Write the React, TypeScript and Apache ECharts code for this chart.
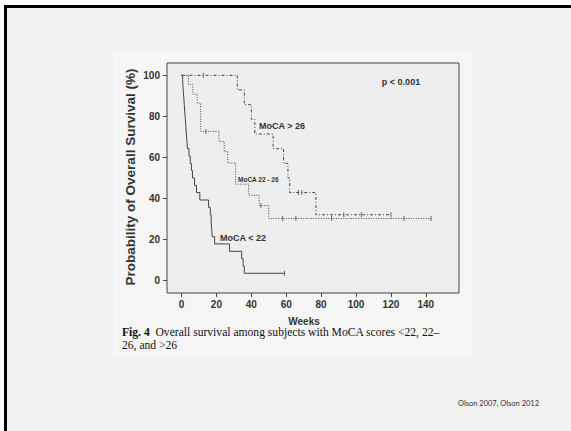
import React, { useEffect, useRef } from "react";
import * as echarts from "echarts";

// MoCA < 22 (solid)
const weeksLow = [0, 0.7, 1, 1.3, 1.6, 1.9, 2.2, 2.5, 2.8, 3.1, 3.4, 4.3, 5, 5.7, 6.3, 7.5, 8.6, 10.5, 15.5, 16.5, 17, 17.3, 17.6, 19, 27.5, 34.5, 35.3, 36, 59];
const survLow = [100, 96.4, 92.9, 89.3, 85.7, 82.1, 78.6, 75, 71.4, 67.9, 64.3, 60.7, 57.1, 53.6, 50, 46.4, 42.9, 39.3, 35.7, 32.1, 28.6, 25, 21.4, 17.9, 14.3, 10.7, 7.1, 3.6, 3.6];
const censorLowW = [59];
const censorLowS = [3.6];

// MoCA 22 - 26 (dotted)
const weeksMid = [0, 4, 6.5, 9, 11, 21.5, 24.5, 26.5, 31, 38.5, 44.5, 50, 143];
const survMid = [100, 95.5, 90.9, 86.4, 72.7, 67.7, 62.9, 57.3, 47, 41.6, 36.6, 30.3, 30.3];
const censorMidW = [14, 45.5, 58, 65.5, 86, 127.5, 143];
const censorMidS = [72.7, 36.6, 30.3, 30.3, 30.3, 30.3, 30.3];

// MoCA > 26 (dash-dot)
const weeksHigh = [0, 32, 36, 40, 42, 52.5, 58.5, 61, 62, 77, 120];
const survHigh = [100, 92.9, 85.7, 78.6, 71.4, 64.3, 57.1, 50, 42.9, 32.1, 32.1];
const censorHighW = [12.5, 67, 69, 93, 103, 120];
const censorHighS = [100, 42.9, 42.9, 32.1, 32.1, 32.1];

const xTicks = [0, 20, 40, 60, 80, 100, 120, 140];
const yTicks = [0, 20, 40, 60, 80, 100];

const zip = (a: number[], b: number[]) => a.map((v, i) => [v, b[i]]);

const lineColor = "#444";
const sans = "Liberation Sans, Arial, sans-serif";
const serif = "Liberation Serif, Times New Roman, serif";

export default function App() {
  const ref = useRef<HTMLDivElement>(null);
  useEffect(() => {
    if (!ref.current) return;
    const chart = echarts.init(ref.current, null, { renderer: "svg" });
    const censorSeries = (w: number[], s: number[]) => ({
      type: "scatter",
      data: zip(w, s),
      symbol: "rect",
      symbolSize: [1, 5],
      itemStyle: { color: lineColor },
      silent: true,
      z: 3,
    });
    const label = (text: string, x: number, y: number, size: number, align = "left") => ({
      type: "text",
      x,
      y,
      style: {
        text,
        fontFamily: sans,
        fontWeight: "bold",
        fontSize: size,
        fill: "#333",
        align,
        verticalAlign: "middle",
      },
    });
    const caption = (text: string, x: number, y: number) => ({
      type: "text",
      x,
      y,
      style: {
        text,
        fontFamily: serif,
        fontSize: 11.6,
        fill: "#111",
        align: "left",
        verticalAlign: "middle",
        rich: {
          b: { fontFamily: serif, fontWeight: "bold", fontSize: 11.6, fill: "#111" },
        },
      },
    });
    chart.setOption({
      animation: false,
      backgroundColor: "#f2f2f2",
      grid: {
        left: 167,
        right: 112,
        top: 63,
        bottom: 138,
        show: true,
        backgroundColor: "#eeeeee",
        borderColor: "#444",
        borderWidth: 1,
      },
      xAxis: {
        type: "value",
        min: -8.3,
        max: 159,
        splitLine: { show: false },
        axisLine: { show: false, onZero: false },
        axisTick: { show: true, length: 4, customValues: xTicks, lineStyle: { color: "#444" } },
        axisLabel: {
          customValues: xTicks,
          margin: 6,
          fontFamily: sans,
          fontWeight: "bold",
          fontSize: 10,
          color: "#333",
        },
      },
      yAxis: {
        type: "value",
        min: -6,
        max: 106,
        splitLine: { show: false },
        axisLine: { show: false, onZero: false },
        axisTick: { show: true, length: 4, customValues: yTicks, lineStyle: { color: "#444" } },
        axisLabel: {
          customValues: yTicks,
          margin: 7,
          fontFamily: sans,
          fontWeight: "bold",
          fontSize: 10,
          color: "#333",
        },
      },
      graphic: [
        { type: "rect", z: -10, shape: { x: 0, y: 0, width: 571, height: 5 }, style: { fill: "#ffffff" } },
        { type: "rect", z: -10, shape: { x: 0, y: 0, width: 4, height: 431 }, style: { fill: "#ffffff" } },
        { type: "rect", z: -10, shape: { x: 4, y: 5, width: 567, height: 3 }, style: { fill: "#000000" } },
        { type: "rect", z: -10, shape: { x: 4, y: 5, width: 3, height: 426 }, style: { fill: "#000000" } },
        { type: "rect", z: -10, shape: { x: 113, y: 52, width: 359, height: 304 }, style: { fill: "#f6f6f6" } },
        {
          type: "text",
          x: 130,
          y: 177,
          rotation: Math.PI / 2,
          style: {
            text: "Probability of Overall Survival (%)",
            fontFamily: sans,
            fontWeight: "bold",
            fontSize: 13.5,
            fill: "#333",
            align: "center",
            verticalAlign: "middle",
          },
        },
        label("Weeks", 304, 321, 10, "center"),
        label("p < 0.001", 401, 82, 9, "center"),
        label("MoCA > 26", 259, 126, 9),
        label("MoCA 22 - 26", 238, 179, 6.5),
        label("MoCA < 22", 220, 238, 9),
        caption("{b|Fig. 4}  Overall survival among subjects with MoCA scores <22, 22–", 122, 332.5),
        caption("26, and >26", 122, 345),
        {
          type: "text",
          x: 458,
          y: 403,
          style: {
            text: "Olson 2007, Olson 2012",
            fontFamily: "Lato, Open Sans, sans-serif",
            fontSize: 7.5,
            fill: "#333",
            align: "left",
            verticalAlign: "middle",
          },
        },
      ],
      series: [
        {
          type: "line",
          step: "end",
          data: zip(weeksLow, survLow),
          showSymbol: false,
          lineStyle: { color: lineColor, width: 1, type: "solid" },
          z: 2,
        },
        {
          type: "line",
          step: "end",
          data: zip(weeksMid, survMid),
          showSymbol: false,
          lineStyle: { color: lineColor, width: 1, type: [1, 1.5] },
          z: 2,
        },
        {
          type: "line",
          step: "end",
          data: zip(weeksHigh, survHigh),
          showSymbol: false,
          lineStyle: { color: lineColor, width: 1, type: [3, 2, 1, 2] },
          z: 2,
        },
        censorSeries(censorLowW, censorLowS),
        censorSeries(censorMidW, censorMidS),
        censorSeries(censorHighW, censorHighS),
      ],
    });
    return () => chart.dispose();
  }, []);
  return <div ref={ref} style={{ position: "absolute", left: 0, top: 0, width: 571, height: 431 }} />;
}
